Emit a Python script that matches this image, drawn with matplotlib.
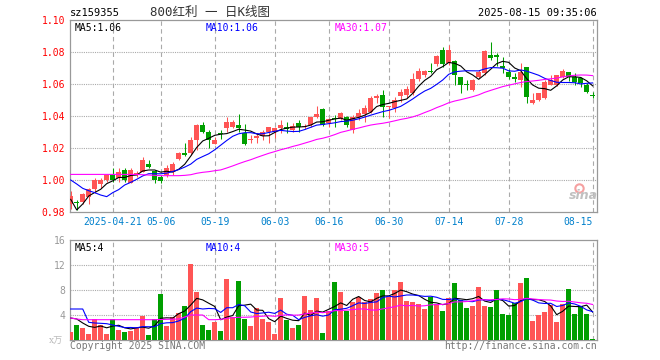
import matplotlib
matplotlib.use('Agg')
import matplotlib.pyplot as plt
import numpy as np
import pandas as pd

# ---- data (88 trading days, 2025-04-10 .. 2025-08-15) ----
opens = [0.9850, 0.9860, 0.9865, 0.9896, 0.9942, 0.9975, 1.0000, 1.0031, 1.0010, 1.0063,
         0.9983, 1.0031, 1.0052, 1.0100, 1.0058, 1.0020, 1.0031, 1.0052, 1.0133, 1.0167,
         1.0167, 1.0250, 1.0344, 1.0298, 1.0225, 1.0288, 1.0323, 1.0329, 1.0344, 1.0296,
         1.0248, 1.0260, 1.0275, 1.0302, 1.0302, 1.0323, 1.0333, 1.0310, 1.0354, 1.0333,
         1.0344, 1.0396, 1.0442, 1.0358, 1.0381, 1.0379, 1.0392, 1.0313, 1.0392, 1.0413,
         1.0427, 1.0510, 1.0531, 1.0454, 1.0448, 1.0525, 1.0531, 1.0542, 1.0629, 1.0656,
         1.0679, 1.0725, 1.0813, 1.0729, 1.0744, 1.0646, 1.0596, 1.0563, 1.0646, 1.0667,
         1.0781, 1.0781, 1.0713, 1.0677, 1.0642, 1.0625, 1.0704, 1.0479, 1.0500, 1.0510,
         1.0594, 1.0594, 1.0646, 1.0673, 1.0646, 1.0635, 1.0594, 1.0531]
closes = [0.9900, 0.9855, 0.9913, 0.9942, 1.0000, 1.0000, 1.0031, 1.0000, 1.0048, 1.0000,
          1.0063, 1.0046, 1.0125, 1.0079, 1.0000, 0.9996, 1.0073, 1.0100, 1.0167, 1.0156,
          1.0250, 1.0344, 1.0302, 1.0250, 1.0250, 1.0285, 1.0363, 1.0365, 1.0323, 1.0225,
          1.0252, 1.0275, 1.0302, 1.0329, 1.0327, 1.0344, 1.0317, 1.0335, 1.0333, 1.0338,
          1.0392, 1.0413, 1.0344, 1.0379, 1.0379, 1.0421, 1.0344, 1.0392, 1.0421, 1.0448,
          1.0510, 1.0525, 1.0454, 1.0458, 1.0500, 1.0552, 1.0567, 1.0629, 1.0683, 1.0683,
          1.0677, 1.0775, 1.0725, 1.0813, 1.0656, 1.0594, 1.0594, 1.0625, 1.0677, 1.0806,
          1.0760, 1.0767, 1.0698, 1.0646, 1.0629, 1.0677, 1.0517, 1.0500, 1.0546, 1.0615,
          1.0625, 1.0656, 1.0683, 1.0646, 1.0615, 1.0604, 1.0552, 1.0525]
highs = [0.9930, 0.9875, 0.9918, 0.9950, 1.0010, 1.0010, 1.0040, 1.0073, 1.0073, 1.0073,
         1.0073, 1.0055, 1.0146, 1.0125, 1.0063, 1.0030, 1.0094, 1.0115, 1.0177, 1.0229,
         1.0271, 1.0350, 1.0363, 1.0313, 1.0271, 1.0313, 1.0396, 1.0375, 1.0413, 1.0350,
         1.0281, 1.0292, 1.0313, 1.0329, 1.0330, 1.0375, 1.0365, 1.0354, 1.0375, 1.0350,
         1.0392, 1.0463, 1.0448, 1.0385, 1.0406, 1.0427, 1.0400, 1.0404, 1.0442, 1.0469,
         1.0525, 1.0538, 1.0563, 1.0463, 1.0520, 1.0567, 1.0585, 1.0671, 1.0698, 1.0688,
         1.0733, 1.0781, 1.0829, 1.0844, 1.0750, 1.0646, 1.0625, 1.0629, 1.0690, 1.0810,
         1.0860, 1.0792, 1.0771, 1.0692, 1.0667, 1.0729, 1.0704, 1.0546, 1.0546, 1.0625,
         1.0656, 1.0656, 1.0692, 1.0677, 1.0671, 1.0646, 1.0604, 1.0552]
lows = [0.9820, 0.9810, 0.9850, 0.9850, 0.9917, 0.9950, 0.9990, 0.9985, 0.9990, 0.9990,
        0.9979, 1.0020, 1.0052, 1.0073, 0.9980, 0.9980, 1.0020, 1.0030, 1.0125, 1.0150,
        1.0156, 1.0188, 1.0292, 1.0198, 1.0225, 1.0258, 1.0302, 1.0323, 1.0302, 1.0219,
        1.0229, 1.0229, 1.0250, 1.0233, 1.0260, 1.0292, 1.0292, 1.0302, 1.0302, 1.0320,
        1.0333, 1.0385, 1.0335, 1.0333, 1.0333, 1.0373, 1.0329, 1.0292, 1.0375, 1.0365,
        1.0417, 1.0479, 1.0396, 1.0385, 1.0427, 1.0490, 1.0515, 1.0531, 1.0621, 1.0646,
        1.0667, 1.0713, 1.0704, 1.0719, 1.0594, 1.0546, 1.0563, 1.0558, 1.0635, 1.0656,
        1.0750, 1.0713, 1.0667, 1.0629, 1.0615, 1.0579, 1.0480, 1.0475, 1.0496, 1.0504,
        1.0594, 1.0588, 1.0635, 1.0621, 1.0594, 1.0583, 1.0542, 1.0510]
volumes = [1.33, 2.45, 1.97, 1.01, 3.36, 2.40, 1.01, 3.36, 1.65, 1.33,
           1.49, 1.92, 3.89, 0.80, 3.36, 7.41, 2.29, 3.68, 4.32, 5.49,
           12.2, 7.63, 2.45, 1.65, 2.93, 1.49, 9.81, 3.68, 9.49, 3.41,
           2.29, 5.12, 3.41, 2.83, 1.01, 6.77, 3.25, 1.97, 2.45, 7.09,
           4.85, 6.77, 1.17, 4.69, 9.33, 7.73, 4.69, 6.13, 6.93, 6.13,
           6.61, 7.57, 8.05, 6.93, 8.05, 9.33, 6.29, 6.13, 5.81, 5.01,
           6.93, 5.81, 4.69, 6.77, 9.17, 6.45, 5.17, 5.49, 8.53, 5.49,
           5.33, 8.05, 4.21, 4.05, 5.97, 9.17, 9.97, 3.09, 4.05, 4.53,
           5.65, 2.93, 5.81, 8.21, 4.21, 5.49, 4.21, 0.21]

# moving-average values before enough visible days exist
ma5_head = [0.9879, 0.9813, 0.9850, 0.9900]
ma10_head = [1.0000, 0.9975, 0.9948, 0.9933, 0.9921, 0.9906, 0.9896, 0.9921, 0.9940]
ma30_head = [1.0035, 1.0035, 1.0035, 1.0035, 1.0035, 1.0035, 1.0035, 1.0035, 1.0035, 1.0035,
             1.0035, 1.0035, 1.0033, 1.0031, 1.0029, 1.0027, 1.0027, 1.0027, 1.0027, 1.0029,
             1.0033, 1.0042, 1.0048, 1.0052, 1.0058, 1.0063, 1.0075, 1.0088, 1.0102]
vma5_head = [3.52, 3.36, 2.72, 2.19]
vma10_head = [4.96, 4.96, 4.96, 2.83, 2.72, 2.67, 2.61, 2.40, 2.19]
vma30_head = [3.52, 3.36, 3.25, 3.25, 3.25, 3.25, 3.25, 3.25, 3.25, 3.25,
              3.25, 3.25, 3.25, 3.25, 3.25, 3.28, 3.30, 3.33, 3.36, 3.68,
              4.00, 4.00, 4.00, 3.25, 3.25, 3.30, 3.47, 3.57, 3.63]

tick_idx = [7, 15, 24, 34, 43, 53, 63, 73, 87]
tick_labels = ['2025-04-21', '05-06', '05-19', '06-03', '06-16', '06-30', '07-14', '07-28', '08-15']
price_ticks = [0.98, 1.00, 1.02, 1.04, 1.06, 1.08, 1.10]
vol_ticks = [4, 8, 12, 16]


def moving_avg(values, n, head):
    s = pd.Series(values).rolling(n).mean().to_numpy()
    s[:n - 1] = head
    return s


o = np.array(opens)
c = np.array(closes)
h = np.array(highs)
l = np.array(lows)
v = np.array(volumes)
x = np.arange(len(c))

ma5 = moving_avg(closes, 5, ma5_head)
ma10 = moving_avg(closes, 10, ma10_head)
ma30 = moving_avg(closes, 30, ma30_head)
vma5 = moving_avg(volumes, 5, vma5_head)
vma10 = moving_avg(volumes, 10, vma10_head)
vma30 = moving_avg(volumes, 30, vma30_head)

RED = '#ff5555'
GREEN = '#009f00'
up = c >= o
colors = np.where(up, RED, GREEN)
mono = 'DejaVu Sans Mono'

W, H = 660, 360
fig = plt.figure(figsize=(6.6, 3.6), dpi=100)
ax = fig.add_axes([70 / W, (H - 212) / H, 527 / W, 192 / H])
axv = fig.add_axes([70 / W, 20 / H, 527 / W, 100 / H])

xlim = (-0.12, 87.72)

# ---- price panel ----
ax.vlines(x, l, h, colors=colors, linewidth=0.75, zorder=3)
body_h = np.maximum(np.abs(c - o), 0.0006)
ax.bar(x, body_h, bottom=np.minimum(o, c), width=0.8, color=colors, linewidth=0, zorder=4)
ax.plot(x, ma5, color='black', lw=0.8, zorder=5)
ax.plot(x, ma10, color='#0000ff', lw=0.8, zorder=5)
ax.plot(x, ma30, color='#ff00ff', lw=0.8, zorder=5)

ax.set_xlim(*xlim)
ax.set_ylim(0.98, 1.10)
ax.set_yticks(price_ticks)
ax.set_yticklabels(['%.2f' % t for t in price_ticks], color='#ff0000', fontsize=7, family=mono)
ax.set_xticks(tick_idx)
ax.set_xticklabels(tick_labels, color='#0080cc', fontsize=7, family=mono)
ax.get_xticklabels()[-1].set_ha('right')
ax.tick_params(length=0, pad=3.5)
for yv in price_ticks[1:-1]:
    ax.axhline(yv, color='#aaaaaa', lw=0.8, ls=(0, (1, 1)), zorder=1)

# ---- volume panel ----
axv.bar(x, v, width=0.8, color=colors, linewidth=0, zorder=3)
axv.plot(x, vma5, color='black', lw=0.8, zorder=5)
axv.plot(x, vma10, color='#0000ff', lw=0.8, zorder=5)
axv.plot(x, vma30, color='#ff00ff', lw=0.8, zorder=5)
axv.set_xlim(*xlim)
axv.set_ylim(0, 16)
axv.set_yticks(vol_ticks)
axv.set_yticklabels([str(t) for t in vol_ticks], color='#999999', fontsize=7, family=mono)
axv.set_xticks([])
axv.tick_params(length=0, pad=3.5)
for yv in vol_ticks[:-1]:
    axv.axhline(yv, color='#aaaaaa', lw=0.8, ls=(0, (1, 1)), zorder=1)

for a in (ax, axv):
    for t in tick_idx:
        a.axvline(t, color='#aaaaaa', lw=0.8, ls=(0, (4, 3)), zorder=1)
    for s in a.spines.values():
        s.set_color('#999999')
        s.set_linewidth(0.9)

# ---- labels ----
ax.text(0.008, 0.985, 'MA5:%.2f' % ma5[-1], transform=ax.transAxes, color='black',
        fontsize=7, family=mono, va='top')
ax.text(0.257, 0.985, 'MA10:%.2f' % ma10[-1], transform=ax.transAxes, color='#0000ff',
        fontsize=7, family=mono, va='top')
ax.text(0.502, 0.985, 'MA30:%.2f' % ma30[-1], transform=ax.transAxes, color='#ff00ff',
        fontsize=7, family=mono, va='top')
axv.text(0.008, 0.97, 'MA5:%d' % int(vma5[-1]), transform=axv.transAxes, color='black',
         fontsize=7, family=mono, va='top')
axv.text(0.257, 0.97, 'MA10:%d' % int(vma10[-1]), transform=axv.transAxes, color='#0000ff',
         fontsize=7, family=mono, va='top')
axv.text(0.502, 0.97, 'MA30:%d' % int(vma30[-1]), transform=axv.transAxes, color='#ff00ff',
         fontsize=7, family=mono, va='top')

fig.text(70 / W, 1 - 13 / H, 'sz159355', fontsize=7.5, family=mono, va='center', color='black')
fig.text(150 / W, 1 - 12 / H, '800红利 一 日K线图', fontsize=9, color='#333333',
         family=[mono, 'Noto Sans CJK SC'], va='center')
fig.text(597 / W, 1 - 13 / H, '2025-08-15 09:35:06', fontsize=7.5, family=mono,
         va='center', ha='right', color='black')
fig.text(70 / W, 1 - 346 / H, 'Copyright 2025 SINA.COM', fontsize=7, family=mono,
         va='center', color='#777777')
fig.text(597 / W, 1 - 346 / H, 'http://finance.sina.com.cn', fontsize=7, family=mono,
         va='center', ha='right', color='#777777')
fig.text(49 / W, 1 - 341 / H, 'x万', fontsize=6.5, family=['DejaVu Serif', 'Noto Sans CJK SC'],
         va='center', color='#bbbbbb')

# sina watermark
ax.plot([0.965], [0.125], transform=ax.transAxes, marker='o', ms=6, mfc='none',
        mec='#f5a0a0', mew=1.5, zorder=2)
ax.text(0.975, 0.085, 'sina', transform=ax.transAxes, fontsize=9, style='italic',
        weight='bold', color='#c0c0c0', ha='center', va='center', zorder=2)

fig.savefig('out.png', dpi=100)
